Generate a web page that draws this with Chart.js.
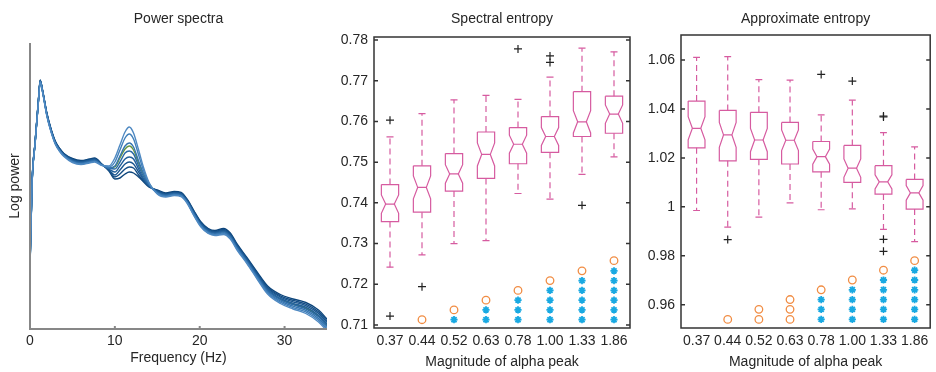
<!DOCTYPE html>
<html>
<head>
<meta charset="utf-8">
<title>Alpha peak vs entropy</title>
<script src="https://cdn.jsdelivr.net/npm/chart.js@4.4.1/dist/chart.umd.min.js"></script>
<style>
    html, body { margin: 0; padding: 0; background: #fff; }
    #wrap { position: relative; width: 936px; height: 372px; }
    #wrap canvas { position: absolute; left: 0; top: 0; }
</style>
</head>
<body>
<div id="wrap">
    <canvas id="spectraChart" width="936" height="372"></canvas>
    <canvas id="seChart" width="936" height="372"></canvas>
    <canvas id="apenChart" width="936" height="372"></canvas>
</div>
<script>
// ---- data ----

// Power spectra: frequency (Hz) and log power (arbitrary units), one curve per alpha magnitude
const freqs = [0, 0.25, 0.6, 1, 1.2, 1.5, 2, 2.5, 3, 3.5, 4, 5, 6, 7, 7.6, 8.5, 9.3, 10, 10.6, 11.2, 11.7, 12.2, 12.8, 13.4, 14, 15, 16, 17, 17.8, 18.5, 19.3, 20.1, 21, 21.8, 22.8, 23.6, 24.4, 25.6, 26.8, 28, 29.5, 31, 32.5, 34, 35];
const freqTicks = [0, 10, 20, 30];

const spec037 = [6.4, 14.8, 18.7, 23.0, 24.9, 23.8, 21.55, 19.95, 18.75, 18.05, 17.55, 17.05, 16.85, 17.0, 17.1, 16.47, 15.8, 15.0, 15.1, 15.5, 15.7, 15.6, 15.2, 14.7, 14.2, 13.9, 13.6, 13.75, 13.65, 13.0, 11.85, 10.75, 10.05, 9.85, 10.05, 9.6, 8.5, 7.1, 5.65, 4.3, 3.45, 3.0, 2.65, 1.9, 1.0];
const spec044 = [6.34, 14.77, 18.67, 22.97, 24.87, 23.77, 21.51, 19.91, 18.71, 18.01, 17.51, 16.99, 16.79, 16.94, 17.04, 16.45, 15.9, 15.2, 15.5, 16.0, 16.2, 16.1, 15.4, 14.8, 14.3, 13.84, 13.54, 13.69, 13.59, 12.94, 11.78, 10.68, 9.98, 9.78, 9.96, 9.51, 8.41, 7.01, 5.55, 4.18, 3.32, 2.86, 2.49, 1.73, 0.83];
const spec052 = [6.29, 14.74, 18.64, 22.94, 24.84, 23.74, 21.46, 19.86, 18.66, 17.96, 17.46, 16.94, 16.74, 16.89, 16.99, 16.43, 15.9, 15.4, 15.9, 16.5, 16.7, 16.5, 15.7, 14.9, 14.3, 13.79, 13.49, 13.64, 13.54, 12.89, 11.71, 10.61, 9.91, 9.71, 9.88, 9.43, 8.33, 6.93, 5.45, 4.07, 3.19, 2.72, 2.34, 1.56, 0.66];
const spec063 = [6.23, 14.71, 18.61, 22.91, 24.81, 23.71, 21.42, 19.82, 18.62, 17.92, 17.42, 16.88, 16.68, 16.83, 16.93, 16.42, 16.0, 15.7, 16.3, 17.0, 17.2, 17.0, 16.0, 15.0, 14.4, 13.73, 13.43, 13.58, 13.48, 12.83, 11.64, 10.54, 9.84, 9.64, 9.79, 9.34, 8.24, 6.84, 5.35, 3.96, 3.06, 2.57, 2.18, 1.38, 0.48];
const spec078 = [6.17, 14.69, 18.59, 22.89, 24.79, 23.69, 21.38, 19.78, 18.58, 17.88, 17.38, 16.82, 16.62, 16.77, 16.87, 16.4, 16.1, 16.0, 16.7, 17.6, 17.8, 17.5, 16.3, 15.2, 14.4, 13.67, 13.37, 13.52, 13.42, 12.77, 11.56, 10.46, 9.76, 9.56, 9.71, 9.26, 8.16, 6.76, 5.25, 3.84, 2.94, 2.43, 2.02, 1.22, 0.32];
const spec100 = [6.11, 14.66, 18.56, 22.86, 24.76, 23.66, 21.34, 19.74, 18.54, 17.84, 17.34, 16.76, 16.56, 16.71, 16.81, 16.38, 16.1, 16.3, 17.3, 18.3, 18.6, 18.2, 16.8, 15.5, 14.5, 13.61, 13.31, 13.46, 13.36, 12.71, 11.49, 10.39, 9.69, 9.49, 9.62, 9.17, 8.07, 6.67, 5.15, 3.73, 2.81, 2.28, 1.86, 1.04, 0.14];
const spec133 = [6.06, 14.63, 18.53, 22.83, 24.73, 23.63, 21.29, 19.69, 18.49, 17.79, 17.29, 16.71, 16.51, 16.66, 16.76, 16.37, 16.2, 16.7, 17.9, 19.1, 19.5, 19.0, 17.4, 15.8, 14.6, 13.56, 13.26, 13.41, 13.31, 12.66, 11.42, 10.32, 9.62, 9.42, 9.54, 9.09, 7.99, 6.59, 5.05, 3.62, 2.68, 2.14, 1.71, 0.87, -0.03];
const spec186 = [6.0, 14.6, 18.5, 22.8, 24.7, 23.6, 21.25, 19.65, 18.45, 17.75, 17.25, 16.65, 16.45, 16.6, 16.7, 16.35, 16.3, 17.1, 18.4, 19.7, 20.2, 19.6, 17.9, 16.1, 14.7, 13.5, 13.2, 13.35, 13.25, 12.6, 11.35, 10.25, 9.55, 9.35, 9.45, 9.0, 7.9, 6.5, 4.95, 3.5, 2.55, 2.0, 1.55, 0.7, -0.2];
const specMean = [6.2, 14.7, 18.6, 22.9, 24.8, 23.7, 21.4, 19.8, 18.6, 17.9, 17.4, 16.85, 16.65, 16.8, 16.9, 16.4, 16.1, 16.2, 17.1, 18.0, 18.3, 17.9, 16.6, 15.4, 14.5, 13.7, 13.4, 13.55, 13.45, 12.8, 11.6, 10.5, 9.8, 9.6, 9.75, 9.3, 8.2, 6.8, 5.3, 3.9, 3.0, 2.5, 2.1, 1.3, 0.4];

// Box plots: categories = magnitude of alpha peak
const alphaMags = ['0.37', '0.44', '0.52', '0.63', '0.78', '1.00', '1.33', '1.86'];
const nPerGroup = 40;

// Spectral entropy
const seTicks = [0.71, 0.72, 0.73, 0.74, 0.75, 0.76, 0.77, 0.78];
const seWhiskLo = [0.7242, 0.7272, 0.7300, 0.7307, 0.7423, 0.7409, 0.7470, 0.7513];
const seQ1 = [0.7354, 0.7377, 0.7429, 0.7460, 0.7496, 0.7524, 0.7563, 0.7571];
const seMed = [0.7397, 0.7438, 0.7471, 0.7519, 0.7544, 0.7563, 0.7599, 0.7618];
const seQ3 = [0.7445, 0.7491, 0.7521, 0.7574, 0.7585, 0.7612, 0.7673, 0.7662];
const seWhiskHi = [0.7562, 0.7619, 0.7653, 0.7664, 0.7654, 0.7709, 0.7780, 0.7771];
const seOutliers = [[0.7603, 0.7122], [0.7194], [], [], [0.7778], [0.7761, 0.7745], [0.7394], []];
const seMarkLevels = [0.7113, 0.7137, 0.7161, 0.7185, 0.7209, 0.7233, 0.7258];
const seStars = [0, 0, 1, 2, 3, 4, 5, 6];
const seCircles = [0, 1, 1, 1, 1, 1, 1, 1];

// Approximate entropy
const apTicks = [0.96, 0.98, 1.00, 1.02, 1.04, 1.06];
const apWhiskLo = [0.9985, 0.9917, 0.9958, 1.0016, 0.9988, 0.9992, 0.9908, 0.9858];
const apQ1 = [1.0241, 1.0188, 1.0194, 1.0175, 1.0143, 1.0100, 1.0052, 0.9991];
const apMed = [1.0321, 1.0294, 1.0273, 1.0272, 1.0205, 1.0158, 1.0102, 1.0057];
const apQ3 = [1.0432, 1.0394, 1.0386, 1.0345, 1.0267, 1.0251, 1.0168, 1.0112];
const apWhiskHi = [1.0611, 1.0614, 1.0520, 1.0518, 1.0376, 1.0436, 1.0303, 1.0245];
const apOutliers = [[], [0.9866], [], [], [1.0541], [1.0514], [1.0371, 1.0367, 0.9867, 0.9818], []];
const apMarkLevels = [0.9540, 0.9581, 0.9621, 0.9661, 0.9701, 0.9741, 0.9780];
const apStars = [0, 0, 0, 0, 3, 4, 5, 6];
const apCircles = [0, 1, 2, 3, 1, 1, 1, 1];

// ---- styles ----
const FONT = "'Liberation Sans', Arial, Helvetica, sans-serif";
const TEXT = '#262626';
const PINK = '#d65ba0';
const BOX_W = 0.27;   // half box width, in category units
const CAP_W = 0.11;
const GAP = { x: null, y: null };

Chart.defaults.font.family = FONT;
Chart.defaults.font.size = 14;
Chart.defaults.color = TEXT;

// frame, inward ticks and panel title
const framePlugin = {
    id: 'frame',
    afterDatasetsDraw(chart, args, opts) {
        const { ctx, chartArea: a } = chart;
        ctx.save();
        ctx.strokeStyle = opts.color;
        ctx.lineWidth = opts.width;
        ctx.beginPath();
        if (opts.box) {
            ctx.rect(a.left, a.top, a.right - a.left, a.bottom - a.top);
        } else {
            ctx.moveTo(a.left, a.top);
            ctx.lineTo(a.left, a.bottom);
            ctx.lineTo(a.right, a.bottom);
        }
        const tl = 4;
        if (opts.yTicks) {
            const ys = chart.scales.y;
            ys.ticks.forEach(t => {
                const py = ys.getPixelForValue(t.value);
                ctx.moveTo(a.left, py); ctx.lineTo(a.left + tl, py);
                ctx.moveTo(a.right, py); ctx.lineTo(a.right - tl, py);
            });
        }
        if (opts.xTicks) {
            const xs = chart.scales.x;
            xs.ticks.forEach(t => {
                const px = xs.getPixelForValue(t.value);
                ctx.moveTo(px, a.bottom); ctx.lineTo(px, a.bottom - 3);
            });
        }
        ctx.stroke();
        ctx.fillStyle = TEXT;
        ctx.font = '14px ' + FONT;
        ctx.textAlign = 'center';
        ctx.textBaseline = 'middle';
        ctx.fillText(opts.title, (a.left + a.right) / 2, opts.titleY);
        ctx.restore();
    }
};

// ---- panel 1: power spectra ----
function initSpectraChart() {
    const ctx = document.getElementById('spectraChart');
    // first dataset is drawn on top; the mean curve sits underneath
    const curves = [spec186, spec133, spec100, spec078, spec063, spec052, spec044, spec037, specMean];
    const colors = ['#4f89c2', '#4180ba', '#3574b0', '#2a69a5', '#215f9a', '#1a568f', '#134d85', '#0d457b', '#67963f'];

    new Chart(ctx, {
        type: 'line',
        data: {
            datasets: curves.map((c, k) => ({
                data: freqs.map((f, i) => ({ x: f, y: c[i] })),
                borderColor: colors[k],
                borderWidth: 1.4,
                pointRadius: 0,
                fill: false,
                cubicInterpolationMode: 'monotone'
            }))
        },
        options: {
            responsive: false,
            animation: false,
            events: [],
            layout: { padding: { left: 0, right: 609, top: 43, bottom: 0 } },
            plugins: {
                legend: { display: false },
                tooltip: { enabled: false },
                frame: { color: '#878787', width: 2, box: false, xTicks: true, title: 'Power spectra', titleY: 19.5 }
            },
            scales: {
                x: {
                    type: 'linear',
                    min: 0,
                    max: 35,
                    grid: { display: false, drawTicks: false },
                    border: { display: false },
                    afterBuildTicks: s => { s.ticks = freqTicks.map(v => ({ value: v })); },
                    afterFit: s => { s.height = 43; },
                    ticks: { padding: 4, maxRotation: 0 },
                    title: { display: true, text: 'Frequency (Hz)', padding: { bottom: 5.5, top: 0 } }
                },
                y: {
                    min: 0,
                    max: 28.6,
                    grid: { display: false, drawTicks: false },
                    border: { display: false },
                    ticks: { display: false },
                    afterFit: s => { s.width = 30; },
                    title: { display: true, text: 'Log power', padding: { top: 6.5, bottom: 0 } }
                }
            }
        },
        plugins: [framePlugin]
    });
}

// ---- panels 2 & 3: notched box plots ----
function boxDatasets(q1, med, q3, lo, hi, outliers, levels, stars, circles) {
    const outline = [], medians = [], whiskers = [], caps = [];
    const out = [], starPts = [], circlePts = [];
    for (let i = 0; i < med.length; i++) {
        const notch = 1.57 * (q3[i] - q1[i]) / Math.sqrt(nPerGroup);
        const L = i - BOX_W, R = i + BOX_W, l = i - BOX_W / 2, r = i + BOX_W / 2;
        outline.push(
            { x: L, y: q3[i] }, { x: R, y: q3[i] }, { x: R, y: med[i] + notch },
            { x: r, y: med[i] }, { x: R, y: med[i] - notch }, { x: R, y: q1[i] },
            { x: L, y: q1[i] }, { x: L, y: med[i] - notch }, { x: l, y: med[i] },
            { x: L, y: med[i] + notch }, { x: L, y: q3[i] }, GAP
        );
        medians.push({ x: l, y: med[i] }, { x: r, y: med[i] }, GAP);
        whiskers.push({ x: i, y: q3[i] }, { x: i, y: hi[i] }, GAP, { x: i, y: q1[i] }, { x: i, y: lo[i] }, GAP);
        caps.push({ x: i - CAP_W, y: hi[i] }, { x: i + CAP_W, y: hi[i] }, GAP,
                  { x: i - CAP_W, y: lo[i] }, { x: i + CAP_W, y: lo[i] }, GAP);
        outliers[i].forEach(v => out.push({ x: i, y: v }));
        for (let k = 0; k < stars[i]; k++) starPts.push({ x: i, y: levels[k] });
        for (let k = stars[i]; k < stars[i] + circles[i]; k++) circlePts.push({ x: i, y: levels[k] });
    }
    const seg = (data, dash) => ({
        type: 'line', data, borderColor: PINK, borderWidth: 1.2, borderDash: dash,
        pointRadius: 0, spanGaps: false, fill: false, tension: 0
    });
    return [
        { type: 'scatter', data: out, pointStyle: 'cross', radius: 4, borderColor: '#222', borderWidth: 1.2 },
        { type: 'scatter', data: starPts, pointStyle: 'star', radius: 3.6, borderColor: '#19a9e2', borderWidth: 1.8 },
        { type: 'scatter', data: circlePts, pointStyle: 'circle', radius: 3.8, borderColor: '#f18d44', backgroundColor: 'rgba(0,0,0,0)', borderWidth: 1.3 },
        seg(outline, []),
        seg(medians, []),
        seg(caps, []),
        seg(whiskers, [6, 4])
    ];
}

function boxOptions(cfg) {
    return {
        responsive: false,
        animation: false,
        events: [],
        layout: { padding: cfg.padding },
        plugins: {
            legend: { display: false },
            tooltip: { enabled: false },
            frame: { color: '#333', width: 1.5, box: true, yTicks: true, title: cfg.title, titleY: 19.5 }
        },
        scales: {
            x: {
                type: 'linear',
                min: -0.5,
                max: alphaMags.length - 0.5,
                grid: { display: false, drawTicks: false },
                border: { display: false },
                afterBuildTicks: s => { s.ticks = alphaMags.map((m, i) => ({ value: i })); },
                afterFit: s => { s.height = 44; },
                ticks: { padding: 5, maxRotation: 0, autoSkip: false, callback: v => alphaMags[Math.round(v)] },
                title: { display: true, text: 'Magnitude of alpha peak', padding: { top: 0, bottom: 1.5 } }
            },
            y: {
                min: cfg.min,
                max: cfg.max,
                grid: { display: false, drawTicks: false },
                border: { display: false },
                afterBuildTicks: s => { s.ticks = cfg.ticks.map(v => ({ value: v })); },
                afterFit: s => { s.width = 44; },
                ticks: { padding: 6, callback: v => String(Number(v.toFixed(2))) }
            }
        }
    };
}

function initSpectralEntropyChart() {
    const ctx = document.getElementById('seChart');
    new Chart(ctx, {
        type: 'line',
        data: { datasets: boxDatasets(seQ1, seMed, seQ3, seWhiskLo, seWhiskHi, seOutliers, seMarkLevels, seStars, seCircles) },
        options: boxOptions({
            title: 'Spectral entropy',
            ticks: seTicks,
            min: 0.70926,
            max: 0.78074,
            padding: { left: 330, right: 306, top: 37, bottom: 0 }
        }),
        plugins: [framePlugin]
    });
}

function initApEnChart() {
    const ctx = document.getElementById('apenChart');
    new Chart(ctx, {
        type: 'line',
        data: { datasets: boxDatasets(apQ1, apMed, apQ3, apWhiskLo, apWhiskHi, apOutliers, apMarkLevels, apStars, apCircles) },
        options: boxOptions({
            title: 'Approximate entropy',
            ticks: apTicks,
            min: 0.95048,
            max: 1.07022,
            padding: { left: 637, right: 2, top: 35, bottom: 0 }
        }),
        plugins: [framePlugin]
    });
}

initSpectraChart();
initSpectralEntropyChart();
initApEnChart();
</script>
</body>
</html>
